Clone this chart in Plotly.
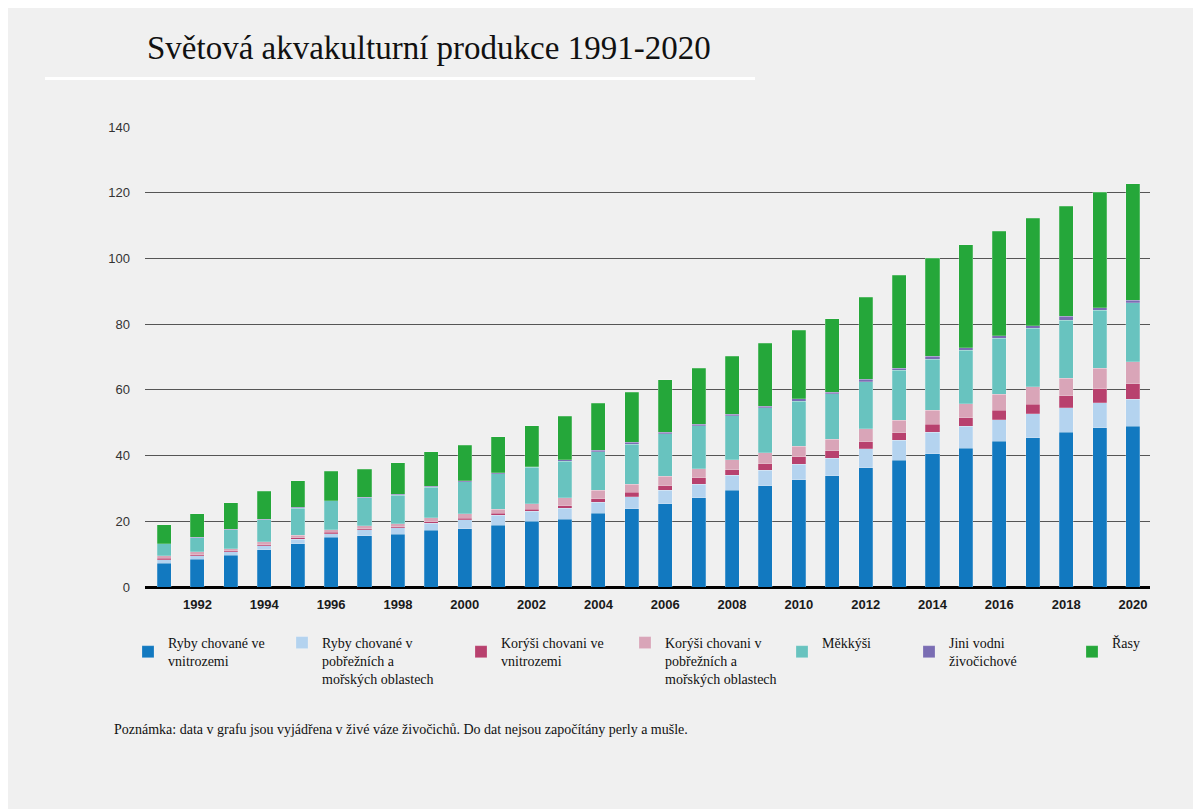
import plotly.graph_objects as go

years = list(range(1991, 2021))

ryby_vnitro = [7.3, 8.5, 9.7, 11.4, 13.2, 15.1, 15.6, 16.1, 17.3, 17.8, 18.8, 20.0, 20.6, 22.5, 23.8,
               25.3, 27.1, 29.5, 30.8, 32.6, 33.8, 36.3, 38.6, 40.5, 42.3, 44.3, 45.4, 47.1, 48.4, 48.9]
ryby_more = [1.0, 1.0, 1.1, 1.1, 1.3, 1.1, 1.8, 2.0, 2.1, 2.6, 3.0, 3.1, 3.4, 3.3, 3.6,
             4.1, 4.2, 4.5, 4.7, 4.7, 5.4, 5.8, 6.1, 6.6, 6.6, 6.6, 7.3, 7.4, 7.7, 8.2]
korysi_vnitro = [0.5, 0.3, 0.3, 0.3, 0.5, 0.5, 0.4, 0.3, 0.5, 0.6, 0.6, 0.6, 0.8, 1.0, 1.4,
                 1.4, 1.9, 1.7, 2.0, 2.3, 2.3, 2.1, 2.3, 2.4, 2.6, 2.9, 2.9, 3.7, 4.3, 4.7]
korysi_more = [0.7, 0.9, 0.5, 0.9, 0.7, 0.7, 0.9, 0.9, 1.2, 1.3, 1.3, 1.7, 2.4, 2.6, 2.5,
               2.9, 2.8, 3.1, 3.4, 3.3, 3.4, 4.0, 3.8, 4.3, 4.2, 4.9, 5.4, 5.4, 6.1, 6.8]
mekkysi = [3.6, 4.3, 5.9, 6.8, 8.3, 8.8, 8.5, 8.7, 9.3, 9.8, 10.8, 11.0, 11.0, 11.8, 12.2,
           13.0, 13.1, 13.3, 13.6, 13.6, 13.9, 14.2, 15.1, 15.5, 16.4, 17.0, 17.8, 17.6, 17.8, 17.9]
jini = [0.1, 0.1, 0.1, 0.1, 0.2, 0.1, 0.1, 0.3, 0.2, 0.2, 0.2, 0.2, 0.6, 0.4, 0.5,
        0.4, 0.5, 0.5, 0.5, 0.8, 0.5, 0.8, 0.7, 0.9, 0.7, 0.7, 0.7, 1.2, 0.7, 0.7]
rasy = [5.7, 7.2, 8.0, 8.5, 8.2, 9.0, 8.5, 9.5, 10.5, 10.9, 11.0, 12.5, 13.1, 14.3, 15.2,
        15.9, 17.0, 17.7, 19.2, 20.8, 22.3, 25.0, 28.3, 29.8, 31.4, 31.8, 32.7, 33.5, 35.2, 35.5]

series_names = [
    "Ryby chované ve<br>vnitrozemi",
    "Ryby chované v<br>pobřežních a<br>mořských oblastech",
    "Korýši chovani ve<br>vnitrozemi",
    "Korýši chovani v<br>pobřežních a<br>mořských oblastech",
    "Měkkýši<br> ",
    "Jini vodni<br>živočichové",
    "Řasy<br> ",
]
series_values = [ryby_vnitro, ryby_more, korysi_vnitro, korysi_more, mekkysi, jini, rasy]
series_colors = ["#1279c0", "#b4d3ef", "#b8416e", "#d9a5b8", "#68c3bf", "#7a6db3", "#25a73a"]

x_ticks = list(range(1992, 2021, 2))
y_ticks = [0, 20, 40, 60, 80, 100, 120, 140]

title_text = "Světová akvakulturní produkce 1991-2020"
note_text = "Poznámka: data v grafu jsou vyjádřena v živé váze živočichů. Do dat nejsou započítány perly a mušle."

# ---- layout geometry (pixels, figure coordinates; page body adds an 8px offset) ----
OFF = 8
WIDTH, HEIGHT = 1193, 801
ML, MR, MT, MB = 137, 51, 118, 222
PW = WIDTH - ML - MR
PH = HEIGHT - MT - MB


def px_x(px):
    # px given in screenshot coordinates
    return (px - OFF - ML) / PW


def px_y(py):
    return (HEIGHT - MB - (py - OFF)) / PH


legend_text_x = [168, 322, 501, 665, 822, 949, 1112]
legend_valign = ["middle", "top", "middle", "top", "middle", "middle", "middle"]

fig = go.Figure()
for i, (name, vals, col) in enumerate(zip(series_names, series_values, series_colors)):
    lg = "legend" if i == 0 else f"legend{i + 1}"
    fig.add_trace(go.Bar(
        x=years, y=vals, name=name, marker_color=col,
        marker_line_width=0.6, marker_line_color="rgba(255,255,255,0.35)",
        legend=lg, hoverinfo="skip",
    ))

legend_font = dict(family="Liberation Serif, Times New Roman, serif", size=14, color="#111")
legends = {}
for i in range(7):
    key = "legend" if i == 0 else f"legend{i + 1}"
    legends[key] = dict(
        x=px_x(legend_text_x[i] - 40), y=px_y(627), xanchor="left", yanchor="top",
        orientation="v", bgcolor="rgba(0,0,0,0)", borderwidth=0,
        font=legend_font, valign=legend_valign[i], tracegroupgap=0,
        itemclick=False, itemdoubleclick=False,
    )

fig.update_layout(
    width=WIDTH, height=HEIGHT,
    margin=dict(l=ML, r=MR, t=MT, b=MB, autoexpand=False),
    paper_bgcolor="#f0f0f0", plot_bgcolor="#f0f0f0",
    barmode="stack", bargap=0.58,
    showlegend=True,
    **legends,
    xaxis=dict(
        range=[1990.43, 2020.51], tickmode="array", tickvals=x_ticks,
        ticktext=[str(v) for v in x_ticks], showgrid=False, zeroline=False,
        showline=False, ticks="", ticklabelstandoff=8,
        tickfont=dict(family="Liberation Sans, Arial, sans-serif", size=13, color="#1a1a1a", weight="bold"),
    ),
    yaxis=dict(
        range=[0, 140.3], tickmode="array", tickvals=y_ticks,
        showgrid=True, gridcolor="#555555", gridwidth=1,
        zeroline=True, zerolinecolor="#000000", zerolinewidth=3,
        showline=False, ticks="", ticklabelstandoff=14,
        tickfont=dict(family="Liberation Sans, Arial, sans-serif", size=13, color="#333333"),
    ),
    shapes=[
        dict(type="rect", xref="paper", yref="paper", x0=px_x(45), x1=px_x(755),
             y0=px_y(80), y1=px_y(77), fillcolor="white", line_width=0, layer="below"),
    ],
    annotations=[
        dict(text=title_text, xref="paper", yref="paper", x=px_x(145), y=px_y(48),
             xanchor="left", yanchor="middle", showarrow=False,
             font=dict(family="Liberation Serif, Times New Roman, serif", size=33, color="#111")),
        dict(text=note_text, xref="paper", yref="paper", x=px_x(112), y=px_y(729),
             xanchor="left", yanchor="middle", showarrow=False,
             font=dict(family="Liberation Serif, Times New Roman, serif", size=14, color="#111")),
    ],
)

fig.write_html("out.html")
